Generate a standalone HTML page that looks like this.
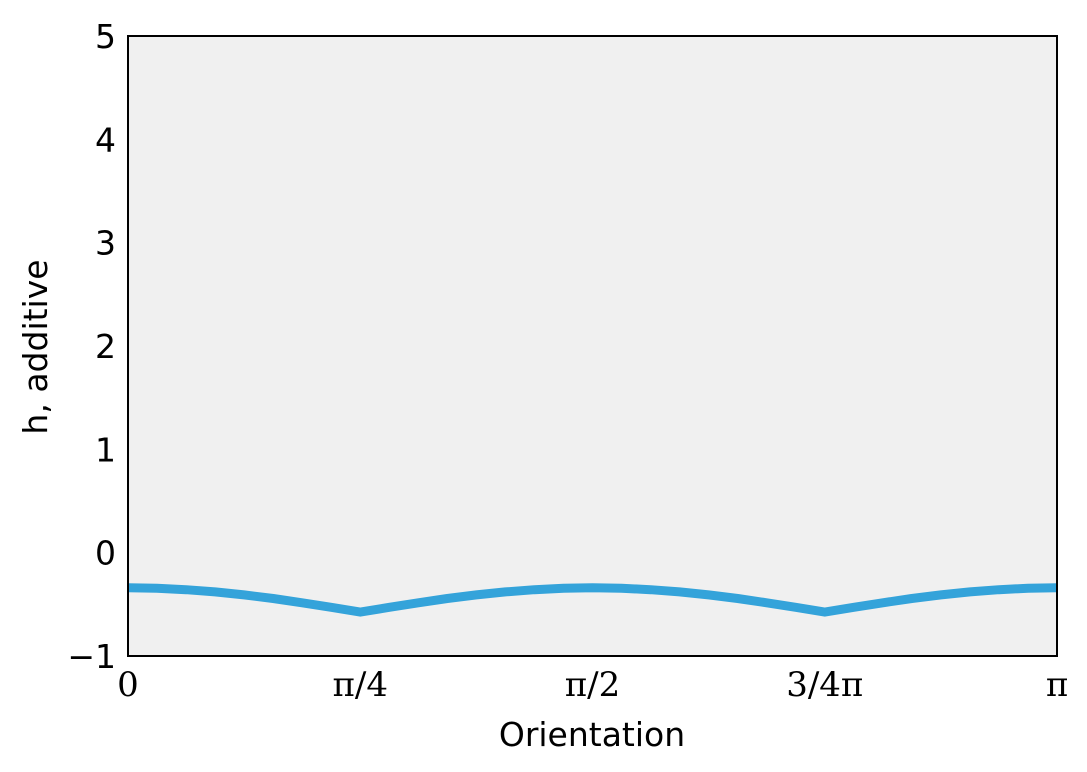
<!DOCTYPE html>
<html><head><meta charset="utf-8"><style>
body{margin:0;background:#fff}
svg{display:block}
.t{font-family:"DejaVu Sans","Liberation Sans",sans-serif;font-size:33px;fill:#000}
.m{font-family:"DejaVu Serif","Liberation Serif",serif;font-size:34px;fill:#000}
</style></head><body>
<svg width="1087" height="772">
<rect x="128" y="36" width="929" height="620" fill="#f0f0f0"/>
<g id="yt"></g><g id="xt"></g>
<path id="curve" fill="none" stroke="#34a3da" stroke-width="9" stroke-linejoin="round"/>
<rect x="128" y="36" width="929" height="620" fill="none" stroke="#000" stroke-width="2"/>
<text class="t" x="592" y="746" text-anchor="middle">Orientation</text>
<text class="t" transform="translate(47,347) rotate(-90)" text-anchor="middle">h, additive</text>
</svg>
<script>
const yTicks=[-1,0,1,2,3,4,5];
const yTickLabels=["\u22121","0","1","2","3","4","5"];
const xTicks=[0,0.25,0.5,0.75,1];
const xTickLabels=["0","\u03c0/4","\u03c0/2","3/4\u03c0","\u03c0"];
const xs=[0,1,2,3,4,5,6,7,8,9,10,11,12,13,14,15,16,17,18,19,20,21,22,23,24,25,26,27,28,29,30,31,32];
const hv=[-0.34,-0.344,-0.358,-0.38,-0.409,-0.444,-0.485,-0.529,-0.575,-0.529,-0.485,-0.444,-0.409,-0.38,-0.358,-0.344,-0.34,-0.344,-0.358,-0.38,-0.409,-0.444,-0.485,-0.529,-0.575,-0.529,-0.485,-0.444,-0.409,-0.38,-0.358,-0.344,-0.34];
const X=f=>128+f*929, Y=v=>656-(v+1)*620/6;
const ns="http://www.w3.org/2000/svg";
const yt=document.getElementById('yt'), xt=document.getElementById('xt');
yTicks.forEach((v,i)=>{
 const t=document.createElementNS(ns,'text');
 
 
 t.setAttribute('class','t');t.setAttribute('x',116);t.setAttribute('y',Y(v)+12);t.setAttribute('text-anchor','end');
 t.textContent=yTickLabels[i];yt.appendChild(t);
});
xTicks.forEach((v,i)=>{
 const t=document.createElementNS(ns,'text');
 
 
 t.setAttribute('class','m');t.setAttribute('x',X(v));t.setAttribute('y',696);t.setAttribute('text-anchor','middle');
 t.textContent=xTickLabels[i];xt.appendChild(t);
});
document.getElementById('curve').setAttribute('d',xs.map((k,i)=>(i?'L':'M')+X(k/32).toFixed(1)+','+Y(hv[i]).toFixed(1)).join(''));
</script>
</body></html>
